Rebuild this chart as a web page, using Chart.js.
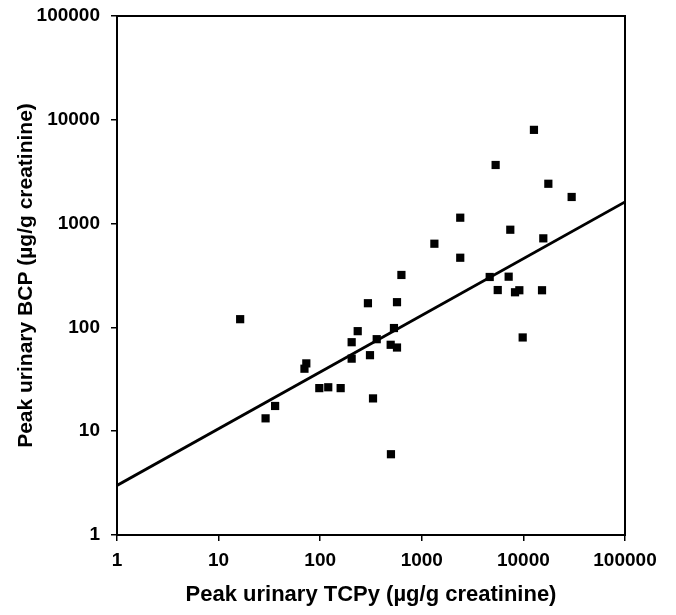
<!DOCTYPE html>
<html>
<head>
<meta charset="utf-8">
<script src="https://cdn.jsdelivr.net/npm/chart.js@4/dist/chart.umd.min.js"></script>
<style>
    html, body { margin: 0; padding: 0; background: #fff; }
    #wrap { width: 676px; height: 615px; position: relative; }
</style>
</head>
<body>
<div id="wrap"><canvas id="scatter-chart"></canvas></div>
<script>
// Peak urinary TCPy (x) vs peak urinary BCP (y), ug/g creatinine
const tcpyValues = [16.3, 29, 36, 70, 73, 98, 120, 159,
    12700, 5330, 17600, 29850, 2390, 7430, 15700, 1330, 2390, 630,
    4660, 7160, 5590, 8270, 9120, 15250, 9840, 295, 570, 234, 532,
    204, 360, 494, 570, 204, 309, 331, 497];
const bcpValues = [120, 13.3, 17.5, 40, 45, 26, 26.5, 26,
    8000, 3670, 2420, 1805, 1140, 873, 721, 640, 469, 320,
    306, 308, 229, 218, 228, 228, 80, 171, 175, 92, 98.6,
    72, 77, 68, 64, 50, 54, 20.7, 6];
const fitX = [1, 100000];
const fitY = [3, 1620];
const decadeTicks = [1, 10, 100, 1000, 10000, 100000];

const points = tcpyValues.map((x, i) => ({ x: x, y: bcpValues[i] }));
const fitLine = fitX.map((x, i) => ({ x: x, y: fitY[i] }));

// draws the closed frame around the plot area
const frameBox = {
    id: 'frameBox',
    afterDraw(chart) {
        const a = chart.chartArea;
        const ctx = chart.ctx;
        ctx.save();
        ctx.strokeStyle = '#000';
        ctx.lineWidth = 2;
        ctx.strokeRect(a.left, a.top, a.right - a.left, a.bottom - a.top);
        ctx.restore();
    }
};

const tickFont = { family: '"Liberation Sans", Arial, sans-serif', size: 19, weight: 'bold' };
const xTitleFont = { family: '"Liberation Sans", Arial, sans-serif', size: 22, weight: 'bold' };
const yTitleFont = { family: '"Liberation Sans", Arial, sans-serif', size: 21, weight: 'bold' };

new Chart(document.getElementById('scatter-chart'), {
    type: 'scatter',
    data: {
        datasets: [{
            label: 'Subjects',
            data: points,
            pointStyle: 'rect',
            pointRadius: 5.8,
            pointHoverRadius: 5.8,
            backgroundColor: '#000',
            borderColor: '#000',
            borderWidth: 0
        }, {
            type: 'line',
            label: 'Fit',
            data: fitLine,
            borderColor: '#000',
            borderWidth: 2.8,
            pointRadius: 0,
            fill: false
        }]
    },
    options: {
        responsive: true,
        maintainAspectRatio: false,
        animation: false,
        layout: {
            padding: { top: 16, right: 51, left: 0, bottom: 0 }
        },
        scales: {
            x: {
                type: 'logarithmic',
                min: 1,
                max: 100000,
                afterBuildTicks: function(scale) {
                    scale.ticks = decadeTicks.map(v => ({ value: v }));
                },
                afterFit: function(scale) {
                    scale.height = 80;
                    scale.paddingLeft = 0;
                    scale.paddingRight = 0;
                },
                border: { display: true, color: '#000', width: 2 },
                grid: { display: true, drawOnChartArea: false, drawTicks: true, tickLength: 6, color: '#000', lineWidth: 1.5 },
                ticks: {
                    color: '#000',
                    font: tickFont,
                    padding: 8,
                    maxRotation: 0,
                    autoSkip: false,
                    callback: function(value) { return String(value); }
                },
                title: {
                    display: true,
                    text: 'Peak urinary TCPy (µg/g creatinine)',
                    color: '#000',
                    font: xTitleFont,
                    padding: { top: 0, bottom: 7 }
                }
            },
            y: {
                type: 'logarithmic',
                min: 1,
                max: 100000,
                afterBuildTicks: function(scale) {
                    scale.ticks = decadeTicks.map(v => ({ value: v }));
                },
                afterFit: function(scale) {
                    scale.width = 117;
                    scale.paddingTop = 0;
                    scale.paddingBottom = 0;
                },
                border: { display: true, color: '#000', width: 2 },
                grid: { display: true, drawOnChartArea: false, drawTicks: true, tickLength: 6, color: '#000', lineWidth: 1.5 },
                ticks: {
                    color: '#000',
                    font: tickFont,
                    padding: 11,
                    autoSkip: false,
                    callback: function(value) { return String(value); }
                },
                title: {
                    display: true,
                    text: 'Peak urinary BCP (µg/g creatinine)',
                    color: '#000',
                    font: yTitleFont,
                    padding: { top: 14, bottom: 0 }
                }
            }
        },
        plugins: {
            legend: { display: false },
            tooltip: { enabled: false }
        }
    },
    plugins: [frameBox]
});
</script>
</body>
</html>
